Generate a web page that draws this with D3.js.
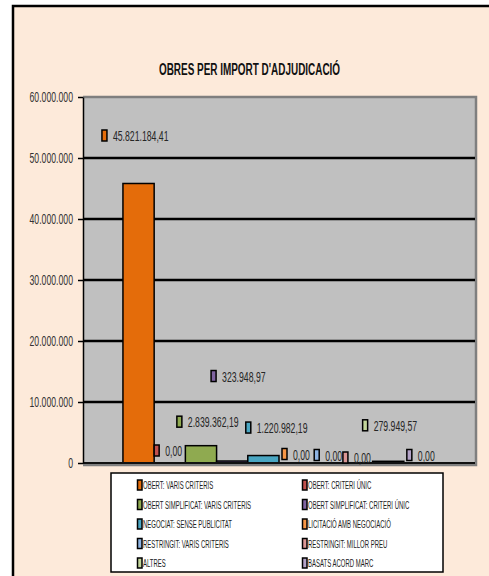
<!DOCTYPE html>
<html>
<head>
<meta charset="utf-8">
<script src="https://cdn.jsdelivr.net/npm/d3@7"></script>
<style>
  body { margin: 0; background: #fff; }
  svg { display: block; font-family: "Liberation Sans", Arial, sans-serif; }
</style>
</head>
<body>
<svg id="chart"></svg>
<script>
// Chart data
const categories = ['OBERT: VARIS CRITERIS', 'OBERT: CRITERI ÚNIC', 'OBERT SIMPLIFICAT:  VARIS CRITERIS',
  'OBERT SIMPLIFICAT: CRITERI ÚNIC', 'NEGOCIAT: SENSE  PUBLICITAT', 'LICITACIÓ AMB NEGOCIACIÓ',
  'RESTRINGIT: VARIS CRITERIS', 'RESTRINGIT: MILLOR  PREU', 'ALTRES', 'BASATS ACORD MARC'];
const values = [45821184.41, 0, 2839362.19, 323948.97, 1220982.19, 0, 0, 0, 279949.57, 0];
const yTicks = [0, 10000000, 20000000, 30000000, 40000000, 50000000, 60000000];
const title = "OBRES PER IMPORT D'ADJUDICACIÓ";

// Styling
const colors = ['#E46C0A', '#C0504D', '#8FAA50', '#7F63A1', '#4AA6C2', '#F79646', '#8EB4E3', '#DA9694', '#C3D69B', '#B3A2C7'];
// data labels were dragged by hand in the original, offsets from bar left / bar top
const labelNudge = [[-21, -48], [0, -12.5], [-8.5, -24], [-5.5, -85], [-2, -28], [3, -9], [4, -8], [1.5, -5.5], [-10, -36], [3, -8]];

const locale = d3.formatLocale({decimal: ',', thousands: '.', grouping: [3], currency: ['', '€']});
const fmtTick = locale.format(',.0f');
const fmtValue = locale.format(',.2f');

// squeeze text horizontally (original uses a very condensed face)
function narrow(sel, k) {
  sel.attr('transform', function() {
    const x = +this.getAttribute('x') || 0, y = +this.getAttribute('y') || 0;
    return `translate(${x},${y}) scale(${k},1)`;
  }).attr('x', 0).attr('y', 0);
}

class ImportChart {
  constructor(_config) {
    this.config = {
      parentElement: _config.parentElement,
      containerWidth: 489,
      containerHeight: 576,
      plot: {left: 83, right: 475, top: 97, bottom: 463}
    };
    this.initVis();
  }

  initVis() {
    let vis = this;
    let p = vis.config.plot;

    vis.svg = d3.select(vis.config.parentElement)
        .attr('width', vis.config.containerWidth)
        .attr('height', vis.config.containerHeight);

    // chart frame
    vis.svg.append('rect')
        .attr('x', 13).attr('y', 6)
        .attr('width', 520).attr('height', 620)
        .attr('fill', '#FDEADA')
        .attr('stroke', '#000')
        .attr('stroke-width', 2.5);

    // title
    vis.svg.append('text')
        .attr('x', 249.5).attr('y', 75)
        .attr('text-anchor', 'middle')
        .attr('font-size', '17px')
        .attr('font-weight', 'bold')
        .attr('fill', '#111')
        .text(title)
        .call(narrow, 0.585);

    // scales
    vis.yScale = d3.scaleLinear()
        .domain([0, 60000000])
        .range([p.bottom, p.top]);

    vis.groupScale = d3.scaleBand()
        .domain(['all'])
        .range([p.left, p.right])
        .paddingInner(0)
        .paddingOuter(0.128);

    vis.xScale = d3.scaleBand()
        .domain(categories)
        .range([vis.groupScale('all'), vis.groupScale('all') + vis.groupScale.bandwidth()])
        .padding(0);

    // plot area
    vis.svg.append('rect')
        .attr('x', p.left).attr('y', p.top)
        .attr('width', p.right - p.left).attr('height', p.bottom - p.top)
        .attr('fill', '#C0C0C0');

    // shadow edges
    vis.svg.append('path')
        .attr('d', `M${p.left},${p.top} H${p.right + 1} V${p.bottom + 2} H${p.left}`)
        .attr('fill', 'none')
        .attr('stroke', '#7F7F7F')
        .attr('stroke-width', 2.5);

    // gridlines
    vis.svg.selectAll('.grid')
        .data(yTicks.filter(d => d > 0 && d < 60000000))
      .join('line')
        .attr('class', 'grid')
        .attr('x1', p.left).attr('x2', p.right)
        .attr('y1', d => vis.yScale(d)).attr('y2', d => vis.yScale(d))
        .attr('stroke', '#000')
        .attr('stroke-width', 2.5);

    vis.renderVis();
  }

  renderVis() {
    let vis = this;
    let p = vis.config.plot;
    let data = categories.map((c, i) => ({name: c, value: values[i], color: colors[i], nudge: labelNudge[i]}));

    // bars
    vis.svg.selectAll('.bar')
        .data(data.filter(d => d.value > 0))
      .join('rect')
        .attr('class', 'bar')
        .attr('x', d => vis.xScale(d.name))
        .attr('width', vis.xScale.bandwidth())
        .attr('y', d => vis.yScale(d.value))
        .attr('height', d => vis.yScale(0) - vis.yScale(d.value))
        .attr('fill', d => d.color)
        .attr('stroke', '#000')
        .attr('stroke-width', 1.5);

    // baseline
    vis.svg.append('line')
        .attr('x1', p.left).attr('x2', p.right)
        .attr('y1', vis.yScale(0)).attr('y2', vis.yScale(0))
        .attr('stroke', '#111')
        .attr('stroke-width', 2);

    // y axis
    let yAxis = d3.axisLeft(vis.yScale)
        .tickValues(yTicks)
        .tickFormat(fmtTick)
        .tickSize(5)
        .tickSizeOuter(0)
        .tickPadding(5);

    let axisG = vis.svg.append('g')
        .attr('transform', `translate(${p.left},0)`)
        .call(yAxis);
    axisG.select('.domain').attr('stroke', '#000').attr('stroke-width', 1.5);
    axisG.selectAll('.tick line').attr('stroke', '#000').attr('stroke-width', 1.5);
    axisG.selectAll('.tick text')
        .attr('font-family', '"Liberation Sans", Arial, sans-serif')
        .attr('font-size', '15px')
        .attr('fill', '#333')
        .call(narrow, 0.58);

    // data labels with legend keys
    let labels = vis.svg.selectAll('.label')
        .data(data)
      .join('g')
        .attr('class', 'label')
        .attr('transform', d => `translate(${vis.xScale(d.name) + d.nudge[0]},${vis.yScale(d.value) + d.nudge[1]})`);

    labels.append('rect')
        .attr('x', 0).attr('y', -5.5)
        .attr('width', 5).attr('height', 11)
        .attr('fill', d => d.color)
        .attr('stroke', '#000')
        .attr('stroke-width', 1.5);

    labels.append('text')
        .attr('x', 11).attr('y', 5.5)
        .attr('font-size', '15px')
        .attr('fill', '#262626')
        .text(d => fmtValue(d.value))
        .call(narrow, 0.58);

    // legend
    let lg = {x: 111, y: 473, w: 332, h: 99};
    vis.svg.append('rect')
        .attr('x', lg.x).attr('y', lg.y)
        .attr('width', lg.w).attr('height', lg.h)
        .attr('fill', '#fff')
        .attr('stroke', '#000')
        .attr('stroke-width', 1.5);

    let items = vis.svg.selectAll('.legend-item')
        .data(data)
      .join('g')
        .attr('class', 'legend-item')
        .attr('transform', (d, i) => `translate(${i % 2 === 0 ? 137.5 : 302.5},${485 + Math.floor(i / 2) * 19.5})`);

    items.append('rect')
        .attr('x', 0).attr('y', -5)
        .attr('width', 4.5).attr('height', 10)
        .attr('fill', d => d.color)
        .attr('stroke', '#000')
        .attr('stroke-width', 1.5);

    items.append('text')
        .attr('x', 5.5).attr('y', 4.2)
        .attr('font-size', '11.5px')
        .attr('fill', '#222')
        .text(d => d.name)
        .call(narrow, 0.52);
  }
}

new ImportChart({parentElement: '#chart'});
</script>
</body>
</html>
